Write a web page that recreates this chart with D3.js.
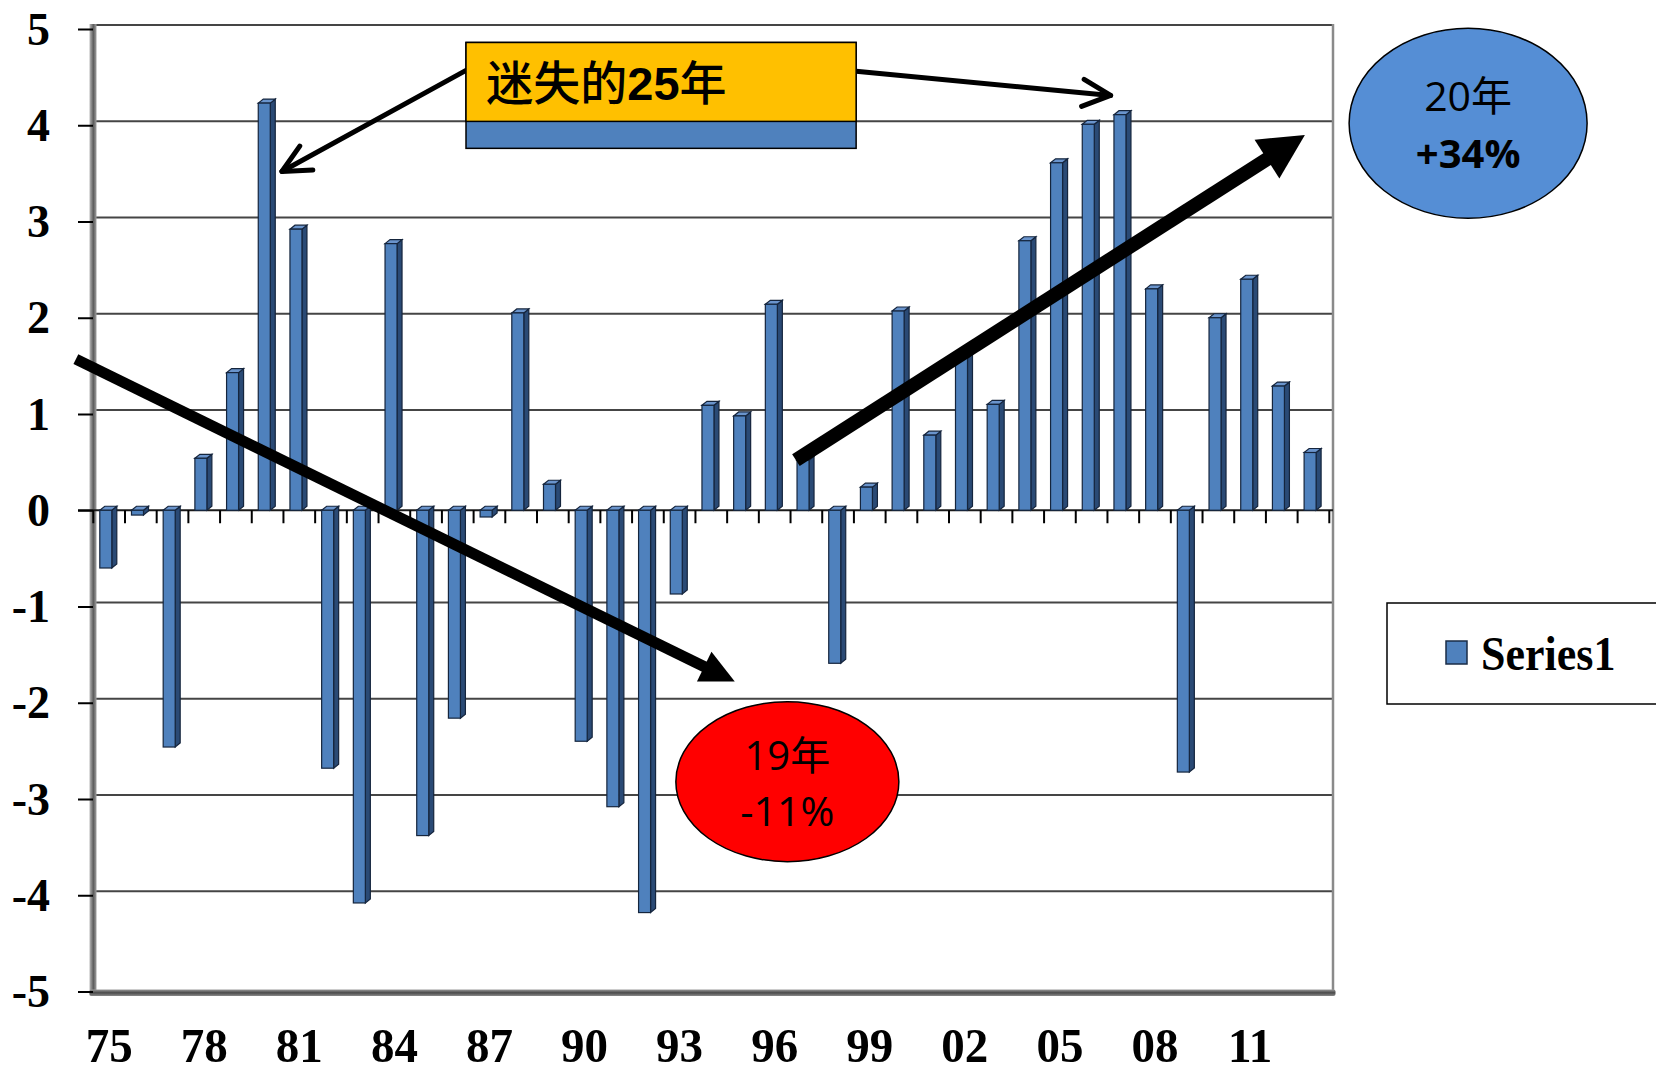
<!DOCTYPE html>
<html><head><meta charset="utf-8">
<script src="https://cdn.jsdelivr.net/npm/d3@7"></script>
<style>html,body{margin:0;padding:0;background:#fff;} svg{display:block}</style>
</head><body>
<svg id="c" width="1656" height="1073"></svg>
<script>
// ---------- data ----------
const years = ["75","76","77","78","79","80","81","82","83","84","85","86","87","88","89","90","91","92","93","94","95","96","97","98","99","00","01","02","03","04","05","06","07","08","09","10","11","12","13"];
const growth = [-0.60,-0.05,-2.46,0.54,1.43,4.23,2.92,-2.68,-4.08,2.77,-3.38,-2.16,-0.07,2.05,0.27,-2.40,-3.08,-4.18,-0.87,1.09,0.98,2.14,0.52,-1.59,0.24,2.07,0.78,1.58,1.10,2.80,3.61,4.01,4.11,2.30,-2.72,2.00,2.40,1.29,0.60];
const xLabels = ["75","78","81","84","87","90","93","96","99","02","05","08","11"];
const yTicks = [5,4,3,2,1,0,-1,-2,-3,-4,-5];
const seriesName = "Series1";
const boxText = ["迷失的","25","年"];
const downText = ["19年","-11%"];
const upText = ["20年","+34%"];

// ---------- setup ----------
const svg = d3.select("#c");
const x = d3.scaleBand().domain(years).range([93.3,1329.3]).padding(0);
const bw = x.bandwidth();
const y = d3.scaleLinear().domain([-5,5]).range([991.5,29]);
const fx = f => x.range()[0] + f*bw;   // fractional category position

const defs = svg.append("defs");
const gw = defs.append("linearGradient").attr("id","wallG").attr("x1",0).attr("x2",1).attr("y1",0).attr("y2",0);
gw.append("stop").attr("offset",0).attr("stop-color","#b8b8b8");
gw.append("stop").attr("offset",0.55).attr("stop-color","#5c5c5c");
gw.append("stop").attr("offset",1).attr("stop-color","#a0a0a0");
const gf = defs.append("linearGradient").attr("id","floorG").attr("x1",0).attr("x2",0).attr("y1",0).attr("y2",1);
gf.append("stop").attr("offset",0).attr("stop-color","#9a9a9a");
gf.append("stop").attr("offset",0.5).attr("stop-color","#4a4a4a");
gf.append("stop").attr("offset",1).attr("stop-color","#8a8a8a");

// ---------- walls & grid ----------
svg.append("g").selectAll("line").data(yTicks.filter(v=>v!==0 && v!==-5)).join("line")
  .attr("x1",96).attr("x2",1333).attr("y1",d=>y(d)-4).attr("y2",d=>y(d)-4)
  .attr("stroke","#454545").attr("stroke-width",2.2);
svg.append("line").attr("x1",1333).attr("x2",1333).attr("y1",y(5)-5).attr("y2",y(-5))
  .attr("stroke","#8a8a8a").attr("stroke-width",2.5);
svg.append("rect").attr("x",89.5).attr("y",y(5)-5).attr("width",7).attr("height",y(-5)-y(5)+9)
  .attr("fill","url(#wallG)");
svg.append("rect").attr("x",89.5).attr("y",y(-5)-2).attr("width",1246).attr("height",6.5).attr("rx",2)
  .attr("fill","url(#floorG)");

// zero line
svg.append("line").attr("x1",78).attr("x2",1333).attr("y1",y(0)).attr("y2",y(0))
  .attr("stroke","#1a1a1a").attr("stroke-width",2);

// ---------- bars (3D look) ----------
const dx = 5, dy = 4, fOff = 6.5, fW = 12;
const barG = svg.append("g");
const bars = barG.selectAll("g").data(years.map((k,i)=>({k, v:growth[i]}))).join("g");
bars.each(function(d){
  const g = d3.select(this);
  const xa = x(d.k) + fOff, xb = xa + fW;
  const top = Math.min(y(0), y(d.v)), bot = Math.max(y(0), y(d.v));
  g.append("polygon").attr("points",[[xb,top],[xb+dx,top-dy],[xb+dx,bot-dy],[xb,bot]].join(" "))
    .attr("fill","#2a4a75").attr("stroke","#15253d").attr("stroke-width",1.2);
  g.append("polygon").attr("points",[[xa,top],[xa+dx,top-dy],[xb+dx,top-dy],[xb,top]].join(" "))
    .attr("fill","#6a94cc").attr("stroke","#15253d").attr("stroke-width",1.2);
  g.append("rect").attr("x",xa).attr("y",top).attr("width",fW).attr("height",Math.max(bot-top,0.5))
    .attr("fill","#4f81bd").attr("stroke","#15253d").attr("stroke-width",1.2);
});

// x tick marks
svg.append("g").selectAll("line").data(d3.range(years.length+1)).join("line")
  .attr("x1",i=>fx(i)).attr("x2",i=>fx(i)).attr("y1",y(0)).attr("y2",y(0)+13)
  .attr("stroke","#000").attr("stroke-width",2);

// ---------- axes ----------
const yAxis = d3.axisLeft(y).tickValues(yTicks).tickSize(15).tickPadding(28).tickFormat(d=>String(d));
svg.append("g").attr("transform","translate(93,0)").call(yAxis)
  .call(g=>g.select(".domain").remove())
  .call(g=>g.selectAll(".tick line").attr("stroke","#000").attr("stroke-width",2))
  .call(g=>g.selectAll(".tick text").attr("font-family","'Liberation Serif','Times New Roman',serif")
     .attr("font-weight","bold").attr("font-size",46).attr("fill","#000").attr("dy","0.33em"));

svg.append("g").selectAll("text").data(xLabels).join("text")
  .attr("transform",d=>`translate(${x(d)+bw/2},1062) scale(1,1.05)`)
  .attr("text-anchor","middle").attr("font-family","'Liberation Serif','Times New Roman',serif")
  .attr("font-weight","bold").attr("font-size",47).attr("fill","#000").text(d=>d);

// ---------- annotations ----------
const ann = svg.append("g");
function filledArrow(p0,p1,w,L,half){
  const vx=p1[0]-p0[0], vy=p1[1]-p0[1], len=Math.hypot(vx,vy), ux=vx/len, uy=vy/len;
  const bx=p1[0]-ux*L, by=p1[1]-uy*L;
  ann.append("line").attr("x1",p0[0]).attr("y1",p0[1]).attr("x2",bx+ux*2).attr("y2",by+uy*2)
    .attr("stroke","#000").attr("stroke-width",w);
  ann.append("polygon").attr("points",[[p1[0],p1[1]],[bx-uy*half,by+ux*half],[bx+uy*half,by-ux*half]].join(" "))
    .attr("fill","#000");
}
function openArrow(p0,p1,w,L,angDeg){
  const a=Math.atan2(p0[1]-p1[1],p0[0]-p1[0]), t=angDeg*Math.PI/180;
  ann.append("line").attr("x1",p0[0]).attr("y1",p0[1]).attr("x2",p1[0]).attr("y2",p1[1])
    .attr("stroke","#000").attr("stroke-width",w).attr("stroke-linecap","round");
  const a1=[p1[0]+L*Math.cos(a+t),p1[1]+L*Math.sin(a+t)], a2=[p1[0]+L*Math.cos(a-t),p1[1]+L*Math.sin(a-t)];
  ann.append("polyline").attr("points",[a1,p1,a2].join(" ")).attr("fill","none")
    .attr("stroke","#000").attr("stroke-width",w).attr("stroke-linecap","round").attr("stroke-linejoin","round");
}

// big trend arrows
filledArrow([fx(-0.55),y(1.57)],[fx(20.24),y(-1.78)],11,34,16.5);
filledArrow([fx(22.17),y(0.52)],[fx(38.23),y(3.90)],14,45,23);

// thin arrows from the label box
openArrow([fx(11.76),y(4.57)],[fx(5.95),y(3.52)],5,31,26);
openArrow([fx(24.07),y(4.56)],[fx(32.1),y(4.31)],5,31,26);

// label box
const bx0=fx(11.76), bx1=fx(24.07);
ann.append("rect").attr("x",bx0).attr("y",y(4.86)).attr("width",bx1-bx0).attr("height",y(3.76)-y(4.86))
  .attr("fill","#4f81bd").attr("stroke","#000").attr("stroke-width",1.5);
ann.append("rect").attr("x",bx0).attr("y",y(4.86)).attr("width",bx1-bx0).attr("height",y(4.04)-y(4.86))
  .attr("fill","#ffc000").attr("stroke","#000").attr("stroke-width",1.5);
const bt = ann.append("text").attr("x",fx(12.4)).attr("y",y(4.26)).attr("font-size",47).attr("fill","#000");
bt.append("tspan").attr("font-family","'Noto Sans CJK SC',sans-serif").attr("font-weight",500).text(boxText[0]);
bt.append("tspan").attr("font-family","'Liberation Sans',Arial,sans-serif").attr("font-weight","bold").text(boxText[1]);
bt.append("tspan").attr("font-family","'Noto Sans CJK SC',sans-serif").attr("font-weight",500).text(boxText[2]);

// red ellipse
ann.append("ellipse").attr("cx",fx(21.9)).attr("cy",y(-2.82)).attr("rx",111.5).attr("ry",80)
  .attr("fill","#ff0000").attr("stroke","#000").attr("stroke-width",1.5);
ann.append("text").attr("x",fx(21.9)).attr("y",y(-2.7)).attr("text-anchor","middle")
  .attr("font-family","'Open Sans','Noto Sans CJK SC',sans-serif").attr("font-size",40).attr("fill","#000").text(downText[0]);
ann.append("text").attr("x",fx(21.9)).attr("y",y(-3.28)).attr("text-anchor","middle")
  .attr("font-family","'Open Sans','Noto Sans CJK SC',sans-serif").attr("font-size",41).attr("fill","#000").text(downText[1]);

// blue ellipse
ann.append("ellipse").attr("cx",fx(43.38)).attr("cy",y(4.02)).attr("rx",119).attr("ry",95)
  .attr("fill","#558ed5").attr("stroke","#000").attr("stroke-width",1.5);
ann.append("text").attr("x",fx(43.38)).attr("y",y(4.15)).attr("text-anchor","middle")
  .attr("font-family","'Open Sans','Noto Sans CJK SC',sans-serif").attr("font-size",41).attr("fill","#000").text(upText[0]);
ann.append("text").attr("x",fx(43.38)).attr("y",y(3.56)).attr("text-anchor","middle")
  .attr("font-family","'Open Sans','Noto Sans CJK SC',sans-serif").attr("font-weight","bold").attr("font-size",40).attr("fill","#000").text(upText[1]);

// ---------- legend ----------
const lg = svg.append("g");
lg.append("rect").attr("x",1387).attr("y",603).attr("width",300).attr("height",101)
  .attr("fill","#fff").attr("stroke","#000").attr("stroke-width",1.5);
lg.append("rect").attr("x",1446).attr("y",641).attr("width",21).attr("height",23)
  .attr("fill","#4f81bd").attr("stroke","#1a2c47").attr("stroke-width",1.5);
lg.append("text").attr("transform","translate(1481,670) scale(1,1.12)")
  .attr("font-family","'Liberation Serif','Times New Roman',serif").attr("font-weight","bold")
  .attr("font-size",44).attr("fill","#000").text(seriesName);
</script>
</body></html>
